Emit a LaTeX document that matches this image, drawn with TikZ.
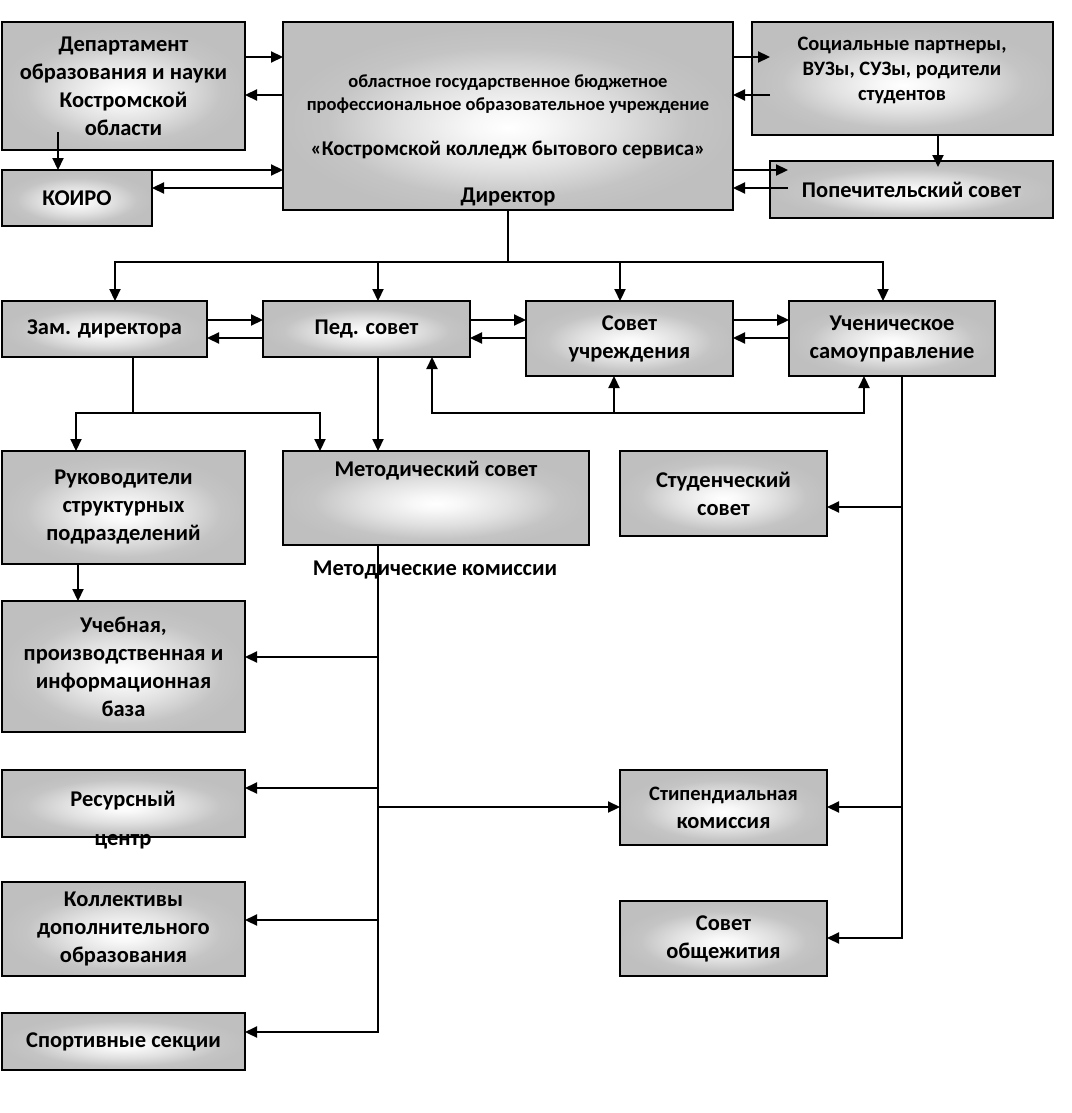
\documentclass[tikz,border=0pt]{standalone}
\usepackage{fontspec}
\setmainfont{Carlito}
\usetikzlibrary{arrows.meta,calc}
\pgfdeclareradialshading{boxshade}{\pgfpoint{0bp}{-3bp}}{color(0bp)=(white); color(4bp)=(white!97!black); color(12bp)=(black!12); color(20bp)=(black!23); color(25bp)=(black!25); color(50bp)=(black!25)}
\newcommand\mkbox[6]{\node[box, minimum width={(#4)-(#2)}, minimum height={(#5)-(#3)}] (#1) at ({((#2)+(#4))/2},{((#3)+(#5))/2}) {#6};}
\tikzset{
  box/.style={draw=black, line width=2.6pt, shading=boxshade, inner sep=0pt, outer sep=0pt, align=center,
    font=\fontsize{22.5}{28}\selectfont\bfseries},
  lbl/.style={inner sep=0pt, align=center, font=\fontsize{22.5}{28}\selectfont\bfseries},
  arr/.style={line width=2.2pt, -{Triangle[length=12pt,width=11pt]}},
  ln/.style={line width=2.2pt}
}
\begin{document}
\begin{tikzpicture}[x=1pt,y=-1pt]
\useasboundingbox (0,0) rectangle (1071,1113);
% boxes
\mkbox{dept}{2}{22}{245}{150}{Департамент\\образования и науки\\Костромской\\области}
\mkbox{koiro}{2}{170}{152}{226}{КОИРО}
\mkbox{main}{283}{22}{733}{210}{}
\mkbox{soc}{752}{22}{1053}{135}{}
\mkbox{pop}{770}{161}{1053}{218}{Попечительский совет}
\mkbox{zam}{2}{301}{207}{357}{Зам. директора}
\mkbox{ped}{263}{301}{470}{357}{Пед. совет}
\mkbox{sov}{526}{301}{733}{376}{Совет\\учреждения}
\mkbox{uch}{789}{301}{995}{376}{Ученическое\\самоуправление}
\mkbox{ruk}{2}{451}{245}{564}{Руководители\\структурных\\подразделений}
\mkbox{met}{283}{451}{589}{545}{}
\mkbox{stud}{620}{451}{827}{536}{Студенческий\\совет}
\mkbox{ucheb}{2}{601}{245}{732}{Учебная,\\производственная и\\информационная\\база}
\mkbox{res}{2}{770}{245}{837}{}
\mkbox{stip}{620}{770}{827}{845}{\fontsize{20.5}{26}\selectfont Стипендиальная\\комиссия}
\mkbox{koll}{2}{882}{245}{976}{Коллективы\\дополнительного\\образования}
\mkbox{sobsh}{620}{901}{827}{976}{Совет\\общежития}
\mkbox{sport}{2}{1013}{245}{1070}{Спортивные секции}
% free texts
\node[lbl, font=\fontsize{18.5}{23}\selectfont\bfseries] (mt1) at (508,94) {областное государственное бюджетное\\профессиональное образовательное учреждение};
\node[lbl, font=\fontsize{21}{23}\selectfont\bfseries] (mt2) at (508,150) {«Костромской колледж бытового сервиса»};
\node[lbl] (mt3) at (508,197) {Директор};
\node[lbl, font=\fontsize{20.5}{25}\selectfont\bfseries] (soct) at (902,70) {Социальные партнеры,\\ВУЗы, СУЗы, родители\\студентов};
\node[lbl] (mett) at (436,471) {Методический совет};
\node[lbl] (mkom) at (435,570) {Методические комиссии};
\node[lbl] (rest) at (123,801) {Ресурсный};
\node[lbl] (resc) at (123,842) {центр};
% connectors top
\draw[arr] (dept.east|-0,57) -- (main.west|-0,57);
\draw[arr] (main.west|-0,95) -- (dept.east|-0,95);
\draw[arr] (koiro.east|-0,170) -- (main.west|-0,170);
\draw[arr] (main.west|-0,188) -- (koiro.east|-0,188);
\draw[arr] (main.east|-0,57) -- ($(soc.west|-0,57)+(18,0)$);
\draw[arr] ($(soc.west|-0,95)+(18,0)$) -- (main.east|-0,95);
\draw[arr] (main.east|-0,170) -- ($(pop.west|-0,170)+(18,0)$);
\draw[arr] ($(pop.west|-0,188)+(18,0)$) -- (main.east|-0,188);
\draw[arr] ($(dept.south-|58,0)+(0,-18)$) -- (koiro.north-|58,0);
\draw[arr] (soc.south-|938,0) -- ($(pop.north-|938,0)+(0,6)$);
% director bus
\coordinate (bus1) at (508,262);
\draw[ln] (main.south) -- (bus1);
\draw[arr] (bus1) -| (zam.north-|115,0);
\draw[arr] (bus1) -| (ped.north-|378,0);
\draw[arr] (bus1) -| (sov.north-|620,0);
\draw[arr] (bus1) -| (uch.north-|883,0);
% row 2
\draw[arr] (zam.east|-0,320) -- (ped.west|-0,320);
\draw[arr] (ped.west|-0,338) -- (zam.east|-0,338);
\draw[arr] (ped.east|-0,320) -- (sov.west|-0,320);
\draw[arr] (sov.west|-0,338) -- (ped.east|-0,338);
\draw[arr] (sov.east|-0,320) -- (uch.west|-0,320);
\draw[arr] (uch.west|-0,338) -- (sov.east|-0,338);
% zam down
\coordinate (j1) at (133,413);
\draw[ln] (zam.south-|133,0) -- (j1);
\draw[arr] (j1) -| (ruk.north-|76,0);
\draw[arr] (j1) -| (met.north-|320,0);
\draw[arr] (ped.south-|378,0) -- (met.north-|378,0);
% bus 2
\coordinate (j2) at (614,413);
\draw[arr] (j2) -| (ped.south-|432,0);
\draw[arr] (j2) -- (sov.south-|614,0);
\draw[arr] (j2) -| (uch.south-|864,0);
% right column
\draw[arr] (uch.south-|902,0) |- (stud.east|-0,507);
\draw[arr] (uch.south-|902,0) |- (stip.east|-0,807);
\draw[arr] (uch.south-|902,0) |- (sobsh.east|-0,938);
% left column
\draw[arr] (ruk.south-|78,0) -- (ucheb.north-|78,0);
\draw[arr] (met.south-|378,0) |- (ucheb.east|-0,657);
\draw[arr] (met.south-|378,0) |- (res.east|-0,788);
\draw[arr] (met.south-|378,0) |- (koll.east|-0,920);
\draw[arr] (met.south-|378,0) |- (sport.east|-0,1032);
\draw[arr] (met.south-|378,0) |- (stip.west|-0,807);
\end{tikzpicture}
\end{document}
